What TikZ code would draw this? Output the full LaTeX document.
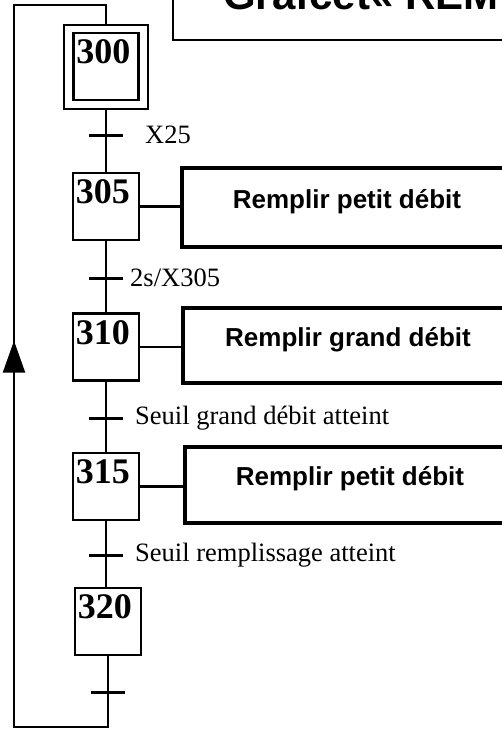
\documentclass[tikz,border=0pt]{standalone}
\usepackage{fontspec}
\setmainfont{Liberation Serif}
\newfontfamily\arialfont{Liberation Sans}
\usetikzlibrary{arrows.meta,calc,decorations.markings}
\tikzset{
 link/.style={line width=2.4pt},
 looplink/.style={line width=2.4pt,postaction={decorate},decoration={markings,mark=at position 551pt with {\arrow{Triangle[length=32pt,width=22pt]}}}},
 tick/.style={line width=3pt},
 stepbox/.style={draw,line width=2.6pt,minimum width=66pt,minimum height=67pt,inner sep=0},
 stepnum/.style={anchor=north west,inner xsep=4pt,inner ysep=8pt,font=\fontsize{36}{40}\selectfont\bfseries},
 initframe/.style={draw,line width=2.4pt,minimum width=84pt,minimum height=84pt,inner sep=0},
 action/.style={draw,line width=4.5pt,minimum width=330pt,inner sep=0,text depth=18pt,font=\arialfont\fontsize{26}{30}\selectfont\bfseries},
 cond/.style={anchor=west,inner sep=0,font=\fontsize{26.5}{30}\selectfont},
 titlebox/.style={draw,line width=2.4pt,anchor=south west,minimum width=400pt,minimum height=80pt}
}
\begin{document}
\begin{tikzpicture}[x=1pt,y=-1pt]
\useasboundingbox (0,0) rectangle (502,729);
\clip (0,0) rectangle (502,729);
\node[titlebox] (title) at (172,41) {};
\node[anchor=base west,inner sep=0,font=\arialfont\fontsize{42}{48}\selectfont\bfseries] (titletext) at (223,9) {Grafcet« REM};
% steps
\node[initframe] (s300o) at (106,67) {};
\node[stepbox,minimum width=65pt] (s300) at (106,66.5) {};
\node[stepnum] (n300) at (s300.north west) {300};
\node[stepbox] (s305) at (106,206.5) {};
\node[stepnum] (n305) at (s305.north west) {305};
\node[stepbox] (s310) at (106,347) {};
\node[stepnum] (n310) at (s310.north west) {310};
\node[stepbox] (s315) at (106,486.5) {};
\node[stepnum] (n315) at (s315.north west) {315};
\node[stepbox] (s320) at (108,621.5) {};
\node[stepnum] (n320) at (s320.north west) {320};
% actions
\node[action,minimum height=79pt] (a305) at (347,207.5) {Remplir petit débit};
\node[action,minimum height=75pt] (a310) at (348,345.5) {Remplir grand débit};
\node[action,minimum height=76pt] (a315) at (350,485) {Remplir petit débit};
\draw[link] (s305.east) -- (s305.east -| a305.west);
\draw[link] (s310.east) -- (s310.east -| a310.west);
\draw[link] (s315.east) -- (s315.east -| a315.west);
% transitions
\coordinate (t300) at (106,135);
\coordinate (t305) at (106,278);
\coordinate (t310) at (106,418);
\coordinate (t315) at (106,555);
\coordinate (t320) at (108,692);
\draw[link] (s300o) -- (s305);
\draw[link] (s305) -- (s310);
\draw[link] (s310) -- (s315);
\draw[link] (s315.south) -- (s315.south |- s320.north);
\foreach \t in {t300,t305,t310,t315,t320}
  \draw[tick] ($(\t)+(-17,0)$) -- ($(\t)+(17,0)$);
\node[cond] (l300) at ($(t300)+(39,0)$) {X25};
\node[cond] (l305) at ($(t305)+(24,0)$) {2s/X305};
\node[cond] (l310) at ($(t310)+(29,0)$) {Seuil grand débit atteint};
\node[cond] (l315) at ($(t315)+(29,0)$) {Seuil remplissage atteint};
% loop back to 300
\coordinate (bl) at (14,727);
\coordinate (tl) at (14,5);
\draw[looplink,line join=miter] (s320) -- (s320 |- bl) -- (bl) -- (tl) -- (tl -| s300o) -- (s300o);
\end{tikzpicture}
\end{document}
